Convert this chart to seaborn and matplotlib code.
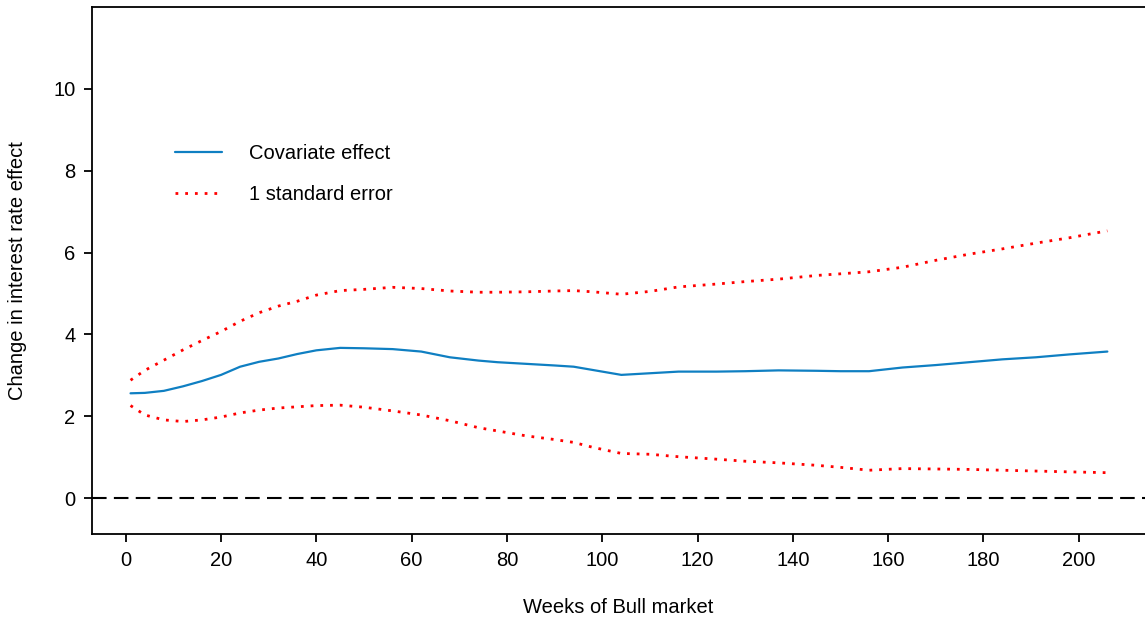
import pandas as pd
import matplotlib
matplotlib.use("Agg")
import matplotlib.pyplot as plt
import seaborn as sns

# values
weeks = [1, 4, 8, 12, 16, 20, 24, 28, 32, 36, 40, 45, 50, 56, 62, 68, 74, 78,
         84, 90, 94, 98, 104, 110, 116, 124, 130, 137, 145, 150, 156, 163,
         170, 177, 184, 191, 198, 206]
effect = [2.56, 2.57, 2.62, 2.73, 2.86, 3.01, 3.21, 3.33, 3.41, 3.52, 3.61,
          3.67, 3.66, 3.64, 3.58, 3.44, 3.36, 3.32, 3.28, 3.24, 3.21, 3.13,
          3.01, 3.05, 3.09, 3.09, 3.10, 3.12, 3.11, 3.10, 3.10, 3.19, 3.25,
          3.32, 3.39, 3.44, 3.51, 3.58]
upper = [2.88, 3.12, 3.37, 3.62, 3.85, 4.07, 4.32, 4.53, 4.69, 4.81, 4.96,
         5.07, 5.10, 5.15, 5.12, 5.06, 5.03, 5.03, 5.04, 5.06, 5.07, 5.04,
         4.98, 5.05, 5.16, 5.23, 5.29, 5.35, 5.44, 5.48, 5.53, 5.64, 5.81,
         5.96, 6.09, 6.23, 6.36, 6.53]
lower = [2.26, 2.03, 1.91, 1.87, 1.91, 1.98, 2.08, 2.15, 2.20, 2.23, 2.26,
         2.27, 2.22, 2.13, 2.03, 1.89, 1.72, 1.64, 1.52, 1.43, 1.36, 1.24,
         1.09, 1.07, 1.01, 0.95, 0.90, 0.86, 0.80, 0.75, 0.68, 0.72, 0.71,
         0.70, 0.68, 0.66, 0.64, 0.62]

df = pd.DataFrame({"week": weeks, "effect": effect, "upper": upper, "lower": lower})

sns.set_style("ticks")
plt.rcParams["font.family"] = ["Liberation Sans", "DejaVu Sans"]
plt.rcParams["text.color"] = "black"
plt.rcParams["axes.labelcolor"] = "black"

fig = plt.figure(figsize=(11.45, 6.21), dpi=100)
ax = fig.add_axes([0.0803, 0.140, 0.9197, 0.8487])

blue = "#0f7fc2"
fs = 14.5
sns.lineplot(data=df, x="week", y="effect", color=blue, lw=1.6, ax=ax,
             label="Covariate effect")
sns.lineplot(data=df, x="week", y="upper", color="red", lw=2,
             linestyle=(0, (1, 2.5)), ax=ax, label="1 standard error")
sns.lineplot(data=df, x="week", y="lower", color="red", lw=2,
             linestyle=(0, (1, 2.5)), ax=ax)
ax.axhline(0, color="black", lw=1.5, linestyle=(0, (7, 3.5)))

ax.set_xlim(-7.1, 213.9)
ax.set_ylim(-0.88, 12.0)
ax.set_xticks(range(0, 201, 20))
ax.set_yticks(range(0, 11, 2))
ax.tick_params(axis="both", labelsize=fs, length=6, width=1.3, pad=6,
               colors="black")
for s in ["left", "bottom", "top"]:
    ax.spines[s].set_linewidth(1.3)
    ax.spines[s].set_color("black")
ax.spines["right"].set_visible(False)

ax.set_xlabel("Weeks of Bull market", fontsize=fs, labelpad=20)
ax.set_ylabel("Change in interest rate effect", fontsize=fs, labelpad=19)

ax.legend(loc="upper left", bbox_to_anchor=(0.0788, 0.740), frameon=False,
          fontsize=fs, handlelength=2.35, handletextpad=1.35,
          labelspacing=1.1, borderpad=0, borderaxespad=0)

fig.savefig("out.png", dpi=100)
